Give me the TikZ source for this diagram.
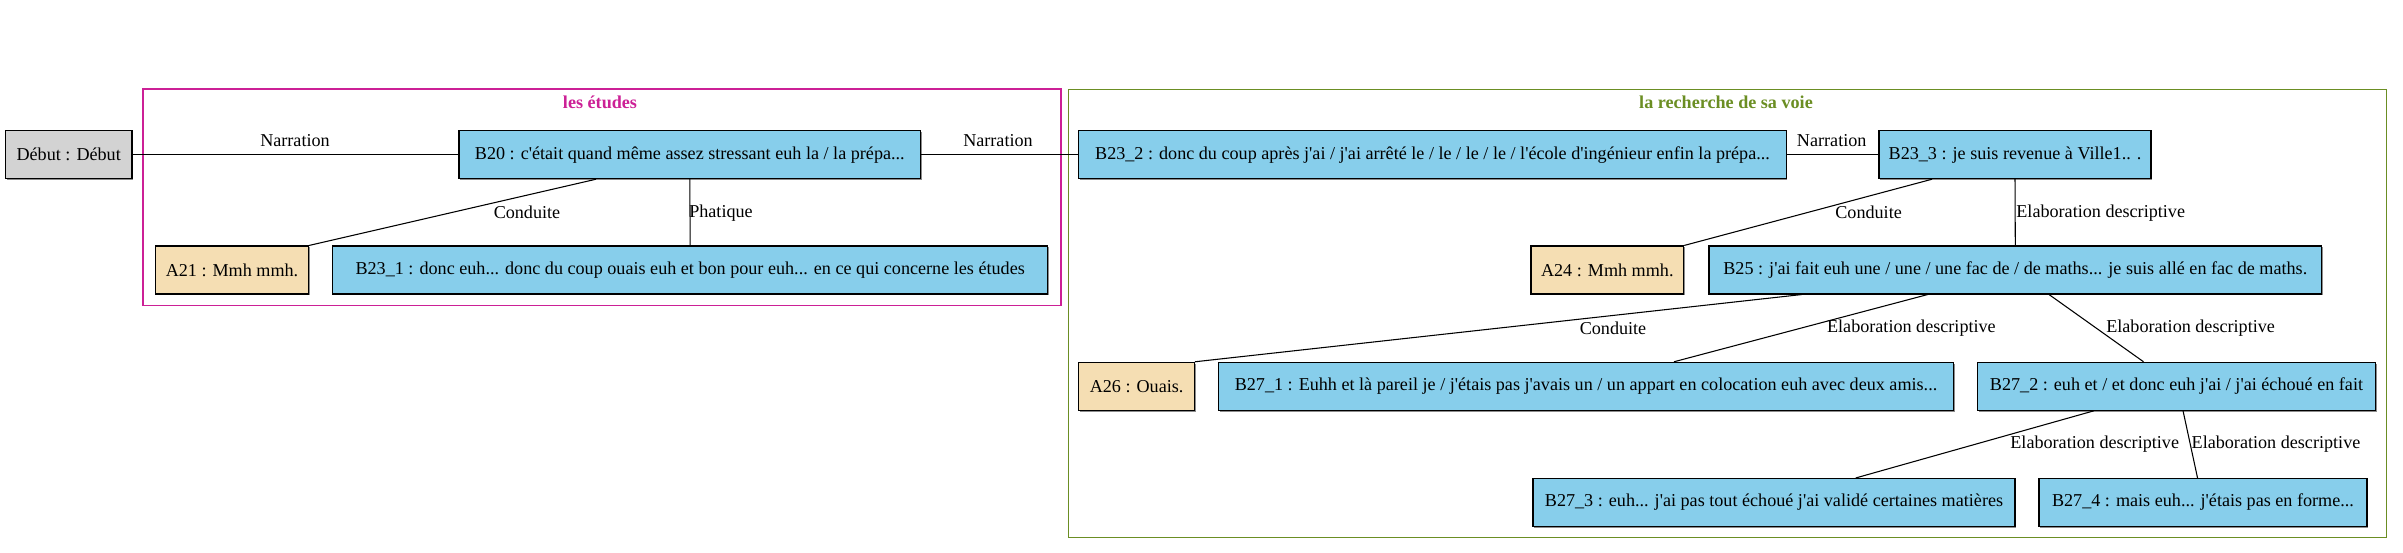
\documentclass[tikz,border=0pt]{standalone}
\usepackage{fontspec}
\setmainfont{Liberation Serif}[Ligatures=TeXOff]
\usepackage{xcolor}
\usepackage{tikz}
\usetikzlibrary{positioning,shadows}

\definecolor{skyb}{RGB}{135,206,235}
\definecolor{whe}{RGB}{245,222,179}
\definecolor{lgr}{RGB}{211,211,211}
\definecolor{etu}{RGB}{204,32,150}
\definecolor{voi}{RGB}{107,142,35}

\begin{document}
\begin{tikzpicture}[
  x=0.75pt, y=-0.75pt,
  font=\fontsize{13.6}{16}\selectfont,
  unit/.style={draw=black, line width=0.8pt, minimum height=36pt, inner sep=2pt, align=center,
    drop shadow={shadow xshift=0.9pt, shadow yshift=-0.9pt, fill=black!45, opacity=1}},
  bseg/.style={unit, fill=skyb},
  aseg/.style={unit, fill=whe},
  start/.style={unit, fill=lgr},
  rel/.style={line width=0.8pt},
  lbl/.style={inner sep=1pt},
  clu/.style={line width=0.9pt},
  ttl/.style={font=\fontsize{13.6}{16}\selectfont\bfseries}
]
\useasboundingbox (0,0) rectangle (2403,553);

% Groupes
\draw[clu, draw=etu] (143,89) rectangle (1061,305.7);
\node[ttl, text=etu] (tEtu) at (600,102.7) {les études};
\draw[clu, draw=voi] (1068.6,89.3) rectangle (2386.8,537.3);
\node[ttl, text=voi] (tVoi) at (1726,102.7) {la recherche de sa voie};

% Segments
\node[start, minimum width=94.9pt] (deb) at (68.7,154.7) {Début : Début};
\node[bseg, minimum width=346.2pt] (b20) at (689.8,154.7) {B20 : c'était quand même assez stressant euh la / la prépa...};
\node[aseg, minimum width=114.8pt] (a21) at (232,270) {A21 : Mmh mmh.};
\node[bseg, minimum width=535.9pt] (b231) at (690.2,270) {B23\_1 : donc euh... donc du coup ouais euh et bon pour euh... en ce qui concerne les études};
\node[bseg, minimum width=530.6pt] (b232) at (1432.5,154.7) {B23\_2 : donc du coup après j'ai / j'ai arrêté le / le / le / le / l'école d'ingénieur enfin la prépa...};
\node[bseg, minimum width=204pt] (b233) at (2015,154.7) {B23\_3 : je suis revenue à Ville1.. .};
\node[aseg, minimum width=114.5pt] (a24) at (1607.3,270) {A24 : Mmh mmh.};
\node[bseg, minimum width=459.5pt] (b25) at (2015.3,270) {B25 : j'ai fait euh une / une / une fac de / de maths... je suis allé en fac de maths.};
\node[aseg, minimum width=86.8pt] (a26) at (1136.6,386.3) {A26 : Ouais.};
\node[bseg, minimum width=551.3pt] (b271) at (1586,386.3) {B27\_1 : Euhh et là pareil je / j'étais pas j'avais un / un appart en colocation euh avec deux amis...};
\node[bseg, minimum width=298.7pt] (b272) at (2176.5,386.3) {B27\_2 : euh et / et donc euh j'ai / j'ai échoué en fait};
\node[bseg, minimum width=361.5pt] (b273) at (1774,502.5) {B27\_3 : euh... j'ai pas tout échoué j'ai validé certaines matières};
\node[bseg, minimum width=246pt] (b274) at (2203,502.5) {B27\_4 : mais euh... j'étais pas en forme...};

% Relations
\draw[rel] (deb.east) -- (b20.west);
\node[lbl] (lNar1) at (295,141) {Narration};
\draw[rel] (b20.east) -- (b232.west);
\node[lbl] (lNar2) at (998,141) {Narration};
\draw[rel] (b232.east) -- (b233.west);
\node[lbl] (lNar3) at (1831.7,141) {Narration};

\draw[rel] ([xshift=-70.4pt]b20.south) -- (a21.north east);
\node[lbl] (lCon1) at (527,212.7) {Conduite};
\draw[rel] (b20.south) -- (b231.north);
\node[lbl] (lPha) at (721,212.7) {Phatique};

\draw[rel] ([xshift=-62.25pt]b233.south) -- (a24.north east);
\node[lbl] (lCon2) at (1868.6,212.7) {Conduite};
\draw[rel] (b233.south) -- (b25.north);
\node[lbl] (lEla1) at (2100.7,212.7) {Elaboration descriptive};

\draw[rel] ([xshift=-160.1pt]b25.south) -- (a26.north east);
\node[lbl] (lCon3) at (1613,328.3) {Conduite};
\draw[rel] ([xshift=-65.7pt]b25.south) -- ([xshift=66pt]b271.north);
\node[lbl] (lEla2) at (1911.4,328.3) {Elaboration descriptive};
\draw[rel] ([xshift=25.3pt]b25.south) -- ([xshift=-24.75pt]b272.north);
\node[lbl] (lEla3) at (2190.6,328.3) {Elaboration descriptive};

\draw[rel] ([xshift=-62pt]b272.south) -- ([xshift=61.3pt]b273.north);
\node[lbl] (lEla4) at (2094.7,444.3) {Elaboration descriptive};
\draw[rel] ([xshift=4.9pt]b272.south) -- ([xshift=-4.1pt]b274.north);
\node[lbl] (lEla5) at (2276,444.3) {Elaboration descriptive};
\end{tikzpicture}
\end{document}
